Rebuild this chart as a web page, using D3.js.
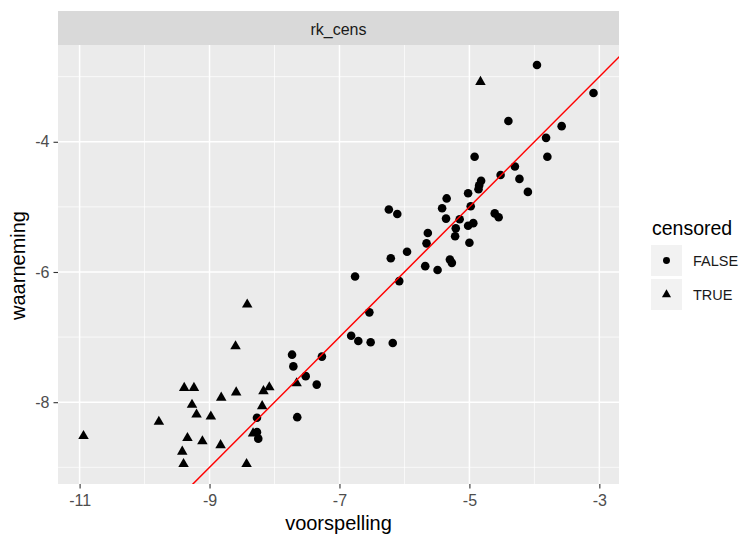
<!DOCTYPE html>
<html>
<head>
<meta charset="utf-8">
<script src="https://cdn.jsdelivr.net/npm/d3@7"></script>
<style>
  body { margin: 0; background: #fff; }
  text { font-family: "Liberation Sans", Arial, sans-serif; }
</style>
</head>
<body>
<div id="chart"></div>
<script>

// uncensored observations (censored = FALSE)
const predFalse = [-3.96, -3.09, -4.40, -3.58, -3.82, -4.92, -3.80, -4.30, -4.52, -4.23,
    -4.82, -4.85, -4.86, -4.10, -5.02, -5.35, -5.42, -4.98, -6.24, -6.11,
    -4.61, -4.55, -5.36, -5.15, -4.94, -5.02, -5.21, -5.22, -5.64, -5.00,
    -5.66, -5.96, -6.21, -5.30, -5.27, -5.68, -5.49, -6.76, -6.08, -6.54,
    -6.82, -6.71, -6.52, -6.18, -7.73, -7.27, -7.71, -7.52, -7.35, -8.27,
    -7.65, -8.27, -8.25]
const obsFalse = [-2.82, -3.25, -3.68, -3.76, -3.94, -4.23, -4.23, -4.38, -4.51, -4.57,
    -4.60, -4.67, -4.73, -4.77, -4.79, -4.87, -5.02, -4.99, -5.04, -5.11,
    -5.10, -5.16, -5.18, -5.19, -5.25, -5.29, -5.33, -5.45, -5.40, -5.55,
    -5.56, -5.69, -5.79, -5.81, -5.86, -5.91, -5.97, -6.07, -6.14, -6.62,
    -6.98, -7.06, -7.08, -7.09, -7.27, -7.30, -7.45, -7.60, -7.73, -8.24,
    -8.23, -8.46, -8.56]

// censored observations (censored = TRUE)
const predTrue = [-4.83, -8.42, -8.60, -7.66, -8.08, -8.17, -8.19, -8.33, -10.94, -9.78,
    -9.39, -9.24, -9.27, -9.20, -8.98, -9.34, -9.11, -9.42, -9.40, -8.83,
    -8.82, -8.59, -8.43]
const obsTrue = [-3.08, -6.50, -7.14, -7.71, -7.77, -7.83, -8.06, -8.48, -8.52, -8.30,
    -7.78, -7.78, -8.04, -8.19, -8.22, -8.55, -8.60, -8.76, -8.95, -8.66,
    -7.93, -7.85, -8.95]

const xTicks = [-11, -9, -7, -5, -3]
const yTicks = [-8, -6, -4]
const legendLabels = ["FALSE", "TRUE"]

const width = 747
const height = 536
const panel = { left: 58, right: 619, top: 45, bottom: 484 }

const points = predFalse.map((p, i) => ({ x: p, y: obsFalse[i], cens: false }))
    .concat(predTrue.map((p, i) => ({ x: p, y: obsTrue[i], cens: true })))

// ggplot style 5% expansion
function expand(vals) {
    const [lo, hi] = d3.extent(vals)
    const pad = (hi - lo) * 0.05
    return [lo - pad, hi + pad]
}

const x = d3.scaleLinear()
    .domain(expand(points.map(d => d.x)))
    .range([panel.left, panel.right])
const y = d3.scaleLinear()
    .domain(expand(points.map(d => d.y)))
    .range([panel.bottom, panel.top])

const svg = d3.select("#chart")
    .append("svg")
    .attr("width", width)
    .attr("height", height)

// strip
svg.append("rect")
    .attr("x", panel.left)
    .attr("y", 11)
    .attr("width", panel.right - panel.left)
    .attr("height", panel.top - 11)
    .attr("fill", "#d9d9d9")
svg.append("text")
    .attr("x", (panel.left + panel.right) / 2)
    .attr("y", 34.5)
    .attr("text-anchor", "middle")
    .attr("fill", "#1a1a1a")
    .style("font-size", "16px")
    .text("rk_cens")

// panel background
svg.append("rect")
    .attr("x", panel.left)
    .attr("y", panel.top)
    .attr("width", panel.right - panel.left)
    .attr("height", panel.bottom - panel.top)
    .attr("fill", "#ebebeb")

const grid = svg.append("g")
const xMinor = [-10, -8, -6, -4]
const yMinor = [-9, -7, -5, -3]

grid.selectAll(".xminor").data(xMinor).enter().append("line")
    .attr("x1", d => x(d)).attr("x2", d => x(d))
    .attr("y1", panel.top).attr("y2", panel.bottom)
    .attr("stroke", "#fff").attr("stroke-width", 0.7)
grid.selectAll(".yminor").data(yMinor).enter().append("line")
    .attr("y1", d => y(d)).attr("y2", d => y(d))
    .attr("x1", panel.left).attr("x2", panel.right)
    .attr("stroke", "#fff").attr("stroke-width", 0.7)
grid.selectAll(".xmajor").data(xTicks).enter().append("line")
    .attr("x1", d => x(d)).attr("x2", d => x(d))
    .attr("y1", panel.top).attr("y2", panel.bottom)
    .attr("stroke", "#fff").attr("stroke-width", 1.5)
grid.selectAll(".ymajor").data(yTicks).enter().append("line")
    .attr("y1", d => y(d)).attr("y2", d => y(d))
    .attr("x1", panel.left).attr("x2", panel.right)
    .attr("stroke", "#fff").attr("stroke-width", 1.5)

// axes, plain hyphen like R prints
const xAxis = svg.append("g")
    .attr("transform", `translate(0,${panel.bottom})`)
    .call(d3.axisBottom(x).tickValues(xTicks).tickSize(4.5).tickPadding(6).tickFormat(d => String(d)))
const yAxis = svg.append("g")
    .attr("transform", `translate(${panel.left},0)`)
    .call(d3.axisLeft(y).tickValues(yTicks).tickSize(4.5).tickPadding(4).tickFormat(d => String(d)))

for (const ax of [xAxis, yAxis]) {
    ax.select(".domain").remove()
    ax.selectAll(".tick line").attr("stroke", "#333").attr("stroke-width", 1.1)
    ax.selectAll(".tick text")
        .attr("fill", "#4d4d4d")
        .style("font-size", "16px")
        .style("font-family", "Liberation Sans, Arial, sans-serif")
}

svg.append("text")
    .attr("x", (panel.left + panel.right) / 2)
    .attr("y", 530)
    .attr("text-anchor", "middle")
    .style("font-size", "20px")
    .text("voorspelling")
svg.append("text")
    .attr("transform", `translate(25,${(panel.top + panel.bottom) / 2 + 1}) rotate(-90)`)
    .attr("text-anchor", "middle")
    .style("font-size", "20px")
    .text("waarneming")

// points + identity line, clipped to the panel
svg.append("clipPath").attr("id", "clip")
    .append("rect")
    .attr("x", panel.left).attr("y", panel.top)
    .attr("width", panel.right - panel.left).attr("height", panel.bottom - panel.top)

const plot = svg.append("g").attr("clip-path", "url(#clip)")

const circle = d3.symbol().type(d3.symbolCircle).size(58)
const triangle = d3.symbol().type(d3.symbolTriangle).size(48)

plot.selectAll("path.pt")
    .data(points)
    .enter()
    .append("path")
    .attr("class", "pt")
    .attr("transform", d => "translate(" + x(d.x) + "," + y(d.y) + ")")
    .attr("d", d => d.cens ? triangle() : circle())
    .attr("fill", "#000")

const lineEnds = [-20, 0]
plot.append("line")
    .attr("x1", x(lineEnds[0])).attr("y1", y(lineEnds[0]))
    .attr("x2", x(lineEnds[1])).attr("y2", y(lineEnds[1]))
    .attr("stroke", "#ff0000")
    .attr("stroke-width", 1.5)

// legend
const legend = svg.append("g")
legend.append("text")
    .attr("x", 652)
    .attr("y", 235)
    .style("font-size", "19.5px")
    .text("censored")

const keys = legend.selectAll("g.key")
    .data(legendLabels)
    .enter()
    .append("g")
    .attr("class", "key")
    .attr("transform", (d, i) => "translate(651," + (245 + i * 34) + ")")
keys.append("rect")
    .attr("width", 31).attr("height", 31)
    .attr("fill", "#f2f2f2")
keys.append("path")
    .attr("transform", "translate(15.5,15.5)")
    .attr("d", (d, i) => i === 0 ? d3.symbol().type(d3.symbolCircle).size(38)() : d3.symbol().type(d3.symbolTriangle).size(36)())
    .attr("fill", "#000")
keys.append("text")
    .attr("x", 42)
    .attr("y", 15.5)
    .attr("dy", "0.35em")
    .style("font-size", "14.5px")
    .attr("fill", "#1a1a1a")
    .text(d => d)

</script>
</body>
</html>
